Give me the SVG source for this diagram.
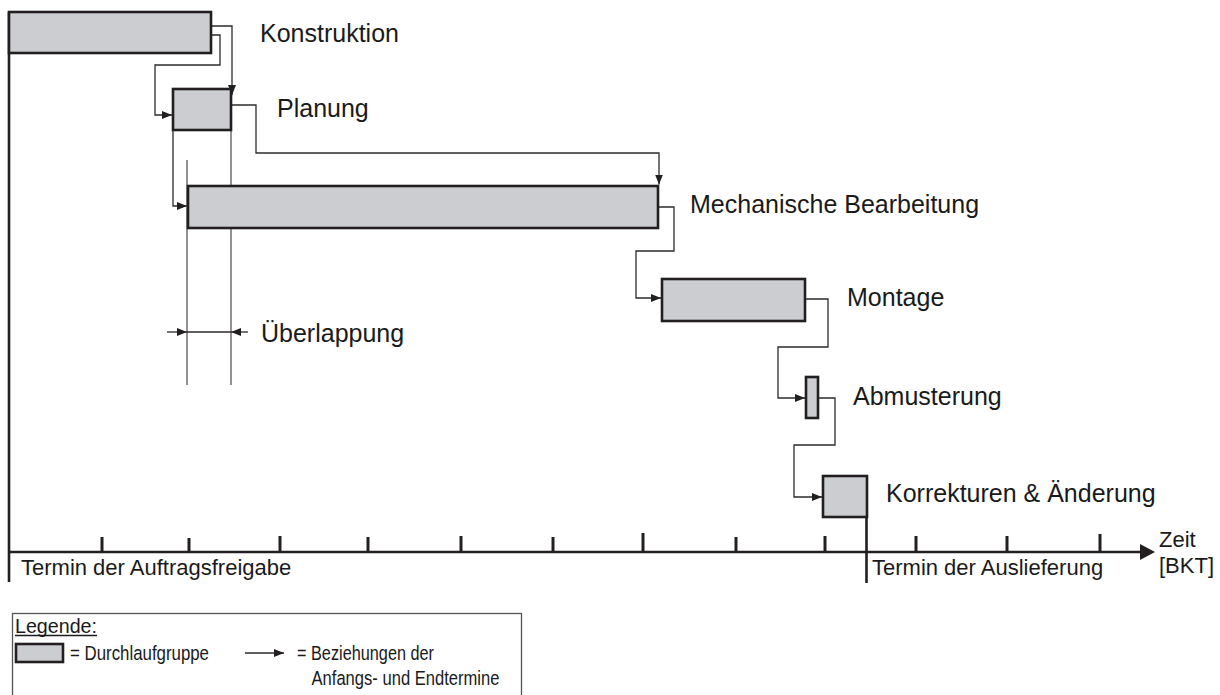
<svg xmlns="http://www.w3.org/2000/svg" width="1220" height="695" viewBox="0 0 1220 695">
  <style>
    .bar { fill: #cbcdd1; stroke: #231f20; stroke-width: 2.6; }
    .lbl { font-family: "Liberation Sans", Arial, sans-serif; font-size: 25px; fill: #1a1a1a; }
    .ax { font-family: "Liberation Sans", Arial, sans-serif; font-size: 22px; fill: #1a1a1a; }
    .lg { font-family: "Liberation Sans", Arial, sans-serif; font-size: 20.5px; fill: #1a1a1a; }
    .con { fill: none; stroke: #2b2b2b; stroke-width: 1.3; }
    .guide { fill: none; stroke: #4a4a4a; stroke-width: 1.2; }
    .axis { fill: none; stroke: #231f20; stroke-width: 2.6; }
    .tick { stroke: #231f20; stroke-width: 3; }
  </style>
  <defs>
    <marker id="arr" viewBox="0 0 10 8" refX="10" refY="4" markerWidth="10" markerHeight="8" markerUnits="userSpaceOnUse" orient="auto">
      <path d="M0,0 L10,4 L0,8 Z" fill="#231f20"/>
    </marker>
  </defs>

  <!-- time axis and frame -->
  <g id="axis">
    <line class="axis" x1="9" y1="12" x2="9" y2="582"/>
    <line class="axis" x1="9" y1="552" x2="1142" y2="552"/>
    <polygon points="1140,544 1155,552 1140,560" fill="#231f20"/>
    <line class="axis" x1="866.5" y1="476" x2="866.5" y2="583"/>
    <g class="tick">
      <line x1="102" y1="537" x2="102" y2="552"/>
      <line x1="189" y1="538" x2="189" y2="552"/>
      <line x1="280" y1="536" x2="280" y2="552"/>
      <line x1="368" y1="537" x2="368" y2="552"/>
      <line x1="461" y1="536" x2="461" y2="552"/>
      <line x1="553" y1="537" x2="553" y2="552"/>
      <line x1="643" y1="533" x2="643" y2="552"/>
      <line x1="736" y1="537" x2="736" y2="552"/>
      <line x1="825" y1="536" x2="825" y2="552"/>
      <line x1="916" y1="536" x2="916" y2="552"/>
      <line x1="1007" y1="536" x2="1007" y2="552"/>
      <line x1="1100" y1="534" x2="1100" y2="552"/>
    </g>
    <text class="ax" x="21" y="575">Termin der Auftragsfreigabe</text>
    <text class="ax" x="872" y="575">Termin der Auslieferung</text>
    <text class="ax" x="1159" y="547">Zeit</text>
    <text class="ax" x="1159" y="573">[BKT]</text>
  </g>

  <!-- dependency connectors -->
  <g id="connectors">
    <path class="con" d="M211,26 H232 V95" marker-end="url(#arr)"/>
    <path class="con" d="M211,35 H220 V65 H155 V115 H172" marker-end="url(#arr)"/>
    <path class="con" d="M231,105 H256 V153 H659 V184.5" marker-end="url(#arr)"/>
    <path class="con" d="M173,130 V206 H187" marker-end="url(#arr)"/>
    <path class="con" d="M658,207 H674 V251 H636 V298 H661" marker-end="url(#arr)"/>
    <path class="con" d="M805,299 H828 V347 H778 V398 H805" marker-end="url(#arr)"/>
    <path class="con" d="M818,398 H835 V445 H794 V497 H822" marker-end="url(#arr)"/>
  </g>

  <!-- overlap marking between Planung and Mechanische Bearbeitung -->
  <g id="overlap">
    <line class="guide" x1="187" y1="160" x2="187" y2="385"/>
    <line class="guide" x1="231" y1="130" x2="231" y2="385"/>
    <line class="con" x1="167" y1="332" x2="187" y2="332" marker-end="url(#arr)"/>
    <line class="con" x1="187" y1="332" x2="231" y2="332"/>
    <line class="con" x1="248" y1="332" x2="231" y2="332" marker-end="url(#arr)"/>
    <text class="lbl" x="261" y="342">Überlappung</text>
  </g>

  <g id="konstruktion">
    <rect class="bar" x="9" y="12" width="202" height="41"/>
    <text class="lbl" x="260" y="41.7">Konstruktion</text>
  </g>
  <g id="planung">
    <rect class="bar" x="173" y="89" width="58" height="41"/>
    <text class="lbl" x="277" y="116.7">Planung</text>
  </g>
  <g id="mechanische-bearbeitung">
    <rect class="bar" x="188" y="186" width="470" height="42"/>
    <text class="lbl" x="690" y="213.3">Mechanische Bearbeitung</text>
  </g>
  <g id="montage">
    <rect class="bar" x="662" y="279" width="143" height="42"/>
    <text class="lbl" x="847" y="306">Montage</text>
  </g>
  <g id="abmusterung">
    <rect class="bar" x="806" y="377" width="12" height="41"/>
    <text class="lbl" x="853" y="405">Abmusterung</text>
  </g>
  <g id="korrekturen">
    <rect class="bar" x="823" y="476" width="44" height="41"/>
    <text class="lbl" x="886" y="502">Korrekturen &amp; Änderung</text>
  </g>

  <!-- legend -->
  <g id="legend">
    <rect x="12.5" y="613.5" width="509" height="90" fill="none" stroke="#555" stroke-width="1.3"/>
    <text class="lg" x="15" y="633" style="font-size:21px" textLength="82" lengthAdjust="spacingAndGlyphs">Legende:</text>
    <line x1="15" y1="635.5" x2="97" y2="635.5" stroke="#1a1a1a" stroke-width="1.4"/>
    <rect class="bar" x="16" y="644" width="47" height="18"/>
    <text class="lg" x="70" y="660" textLength="139" lengthAdjust="spacingAndGlyphs">= Durchlaufgruppe</text>
    <line class="con" x1="245" y1="653" x2="284" y2="653" marker-end="url(#arr)"/>
    <text class="lg" x="297" y="660" textLength="137" lengthAdjust="spacingAndGlyphs">= Beziehungen der</text>
    <text class="lg" x="311.5" y="685" textLength="188" lengthAdjust="spacingAndGlyphs">Anfangs- und Endtermine</text>
  </g>
</svg>
